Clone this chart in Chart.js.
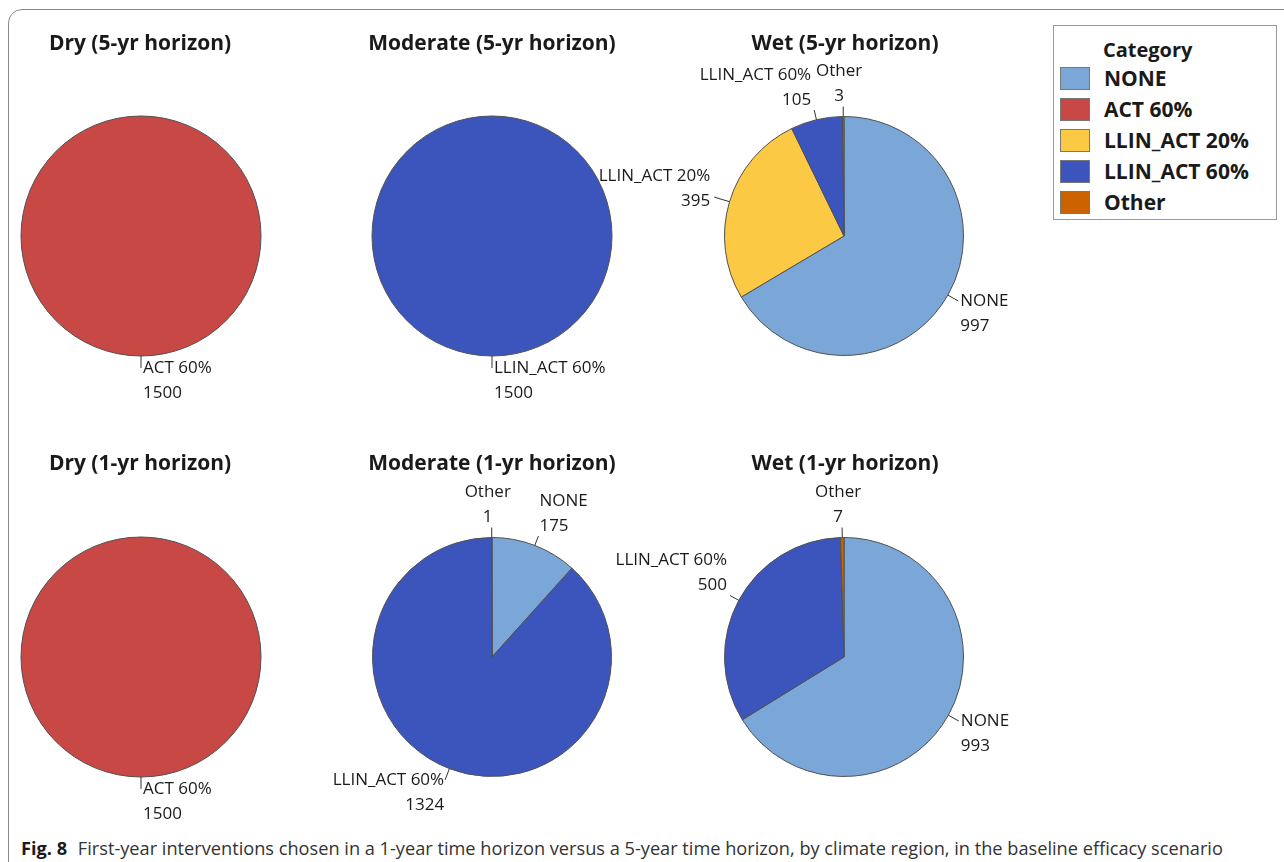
<!DOCTYPE html>
<html>
<head>
<meta charset="utf-8">
<script src="https://cdn.jsdelivr.net/npm/chart.js@4.4.0/dist/chart.umd.min.js"></script>
<style>
  body { margin: 0; background: #fff; width: 1284px; height: 862px; overflow: hidden; position: relative; font-family: "Open Sans", sans-serif; color: #1a1a1a; }
  #frame { position: absolute; left: 8px; top: 9px; width: 1320px; height: 880px; border: 1px solid #8a8a8a; border-radius: 14px; }
  .pie { position: absolute; }
  .ttl { position: absolute; font-weight: bold; font-size: 21px; transform: translate(-50%, -50%); white-space: nowrap; }
  #legend { position: absolute; left: 1053px; top: 25px; width: 222px; height: 193px; border: 1px solid #9a9a9a; }
  #legend .head { position: absolute; left: 49px; top: 23px; transform: translateY(-50%); font-weight: bold; font-size: 20px; }
  #legend .row { position: absolute; left: 6px; height: 24px; display: flex; align-items: center; transform: translateY(-50%); font-weight: bold; font-size: 21px; white-space: nowrap; }
  #legend .sw { width: 28px; height: 21px; border: 1px solid #777; margin-right: 14px; }
  #caption { position: absolute; left: 21px; top: 848px; transform: translateY(-50%); font-size: 18.2px; white-space: nowrap; color: #333; }
  #caption b { margin-right: 6px; color: #1a1a1a; }
</style>
</head>
<body>
<div id="frame"></div>
<div id="legend"></div>
<div id="caption"><b>Fig. 8</b> First-year interventions chosen in a 1-year time horizon versus a 5-year time horizon, by climate region, in the baseline efficacy scenario</div>
<script>
const categories = ['NONE', 'ACT 60%', 'LLIN_ACT 20%', 'LLIN_ACT 60%', 'Other'];
const colors = ['#7BA7D8', '#C84846', '#FCC945', '#3C55BD', '#CC6300'];

const titles = ['Dry (5-yr horizon)', 'Moderate (5-yr horizon)', 'Wet (5-yr horizon)',
                'Dry (1-yr horizon)', 'Moderate (1-yr horizon)', 'Wet (1-yr horizon)'];
const dry5 = [0, 1500, 0, 0, 0];
const moderate5 = [0, 0, 0, 1500, 0];
const wet5 = [997, 0, 395, 105, 3];
const dry1 = [0, 1500, 0, 0, 0];
const moderate1 = [175, 0, 0, 1324, 1];
const wet1 = [993, 0, 0, 500, 7];
const series = [dry5, moderate5, wet5, dry1, moderate1, wet1];

// pie centres on the page
const colX = [141, 492, 844];
const rowY = [236, 657];
const titleX = [140, 492, 845];
const titleY = [42, 462];

const total = (arr) => arr.reduce((a, b) => a + b, 0);

// labels with short leader lines, like the Minitab output
const leaderLabels = {
  id: 'leaderLabels',
  afterDatasetsDraw(chart) {
    const ctx = chart.ctx;
    const meta = chart.getDatasetMeta(0);
    const values = chart.data.datasets[0].data;
    const sum = total(values);
    ctx.save();
    ctx.font = '17px "Open Sans"';
    ctx.fillStyle = '#1a1a1a';
    ctx.strokeStyle = '#333';
    ctx.lineWidth = 1;
    ctx.textBaseline = 'middle';
    const lh = 25;
    meta.data.forEach((arc, i) => {
      const v = values[i];
      if (!v) return;
      const p = arc.getProps(['x', 'y', 'startAngle', 'endAngle', 'outerRadius'], true);
      if (v === sum) {
        // single full slice: outline only, no radial seam
        ctx.strokeStyle = '#505050';
        ctx.beginPath();
        ctx.arc(p.x, p.y, p.outerRadius, 0, Math.PI * 2);
        ctx.stroke();
        ctx.strokeStyle = '#333';
      }
      const mid = (p.startAngle + p.endAngle) / 2;
      const c = Math.cos(mid), s = Math.sin(mid);
      const side = Math.abs(s) < 0.35;
      const len = side ? 16 : (s > 0 ? 12 : 10);
      const x0 = p.x + c * p.outerRadius, y0 = p.y + s * p.outerRadius;
      const x1 = p.x + c * (p.outerRadius + len), y1 = p.y + s * (p.outerRadius + len);
      ctx.beginPath();
      ctx.moveTo(x0, y0);
      ctx.lineTo(x1, y1);
      ctx.stroke();
      const lines = [chart.data.labels[i], String(v)];
      let tx, firstY, align;
      if (side) {
        align = c < 0 ? 'right' : 'left';
        tx = x1 + (c < 0 ? -4 : 4);
        firstY = y1 + 4 - lh * (lines.length - 1);
      } else if (s > 0) {
        align = c < -0.05 ? 'right' : 'left';
        tx = x1 + (align === 'right' ? -1 : 2);
        firstY = y1;
      } else {
        if (Math.abs(c) < 0.1) { align = 'center'; tx = x1 - 4; }
        else { align = c < 0 ? 'right' : 'left'; tx = x1 + (c < 0 ? -3 : 1); }
        firstY = y1 - 10 - lh * (lines.length - 1);
      }
      ctx.textAlign = align;
      lines.forEach((t, k) => ctx.fillText(t, tx, firstY + k * lh));
    });
    ctx.restore();
  }
};

const W = 540, H = 420;
series.forEach((vals, idx) => {
  const col = idx % 3, row = Math.floor(idx / 3);
  const cx = colX[col], cy = rowY[row];
  const canvas = document.createElement('canvas');
  canvas.className = 'pie';
  canvas.width = W;
  canvas.height = H;
  canvas.style.left = (cx - W / 2) + 'px';
  canvas.style.top = (cy - H / 2) + 'px';
  document.body.appendChild(canvas);

  const t = document.createElement('div');
  t.className = 'ttl';
  t.textContent = titles[idx];
  t.style.left = titleX[col] + 'px';
  t.style.top = titleY[row] + 'px';
  document.body.appendChild(t);

  const sum = total(vals);
  new Chart(canvas.getContext('2d'), {
    type: 'pie',
    data: {
      labels: categories,
      datasets: [{
        data: vals,
        backgroundColor: colors,
        borderColor: '#505050',
        borderWidth: (c) => (c.raw && c.raw !== sum ? 1 : 0)
      }]
    },
    options: {
      responsive: false,
      animation: false,
      events: [],
      layout: { padding: { left: (W - 240) / 2, right: (W - 240) / 2, top: (H - 240) / 2, bottom: (H - 240) / 2 } },
      plugins: { legend: { display: false }, tooltip: { enabled: false } }
    },
    plugins: [leaderLabels]
  });
});

// legend box
const legend = document.getElementById('legend');
const head = document.createElement('div');
head.className = 'head';
head.textContent = 'Category';
legend.appendChild(head);
categories.forEach((name, i) => {
  const r = document.createElement('div');
  r.className = 'row';
  r.style.top = (52 + i * 31) + 'px';
  r.innerHTML = '<span class="sw" style="background:' + colors[i] + '"></span>' + name;
  legend.appendChild(r);
});
</script>
</body>
</html>
